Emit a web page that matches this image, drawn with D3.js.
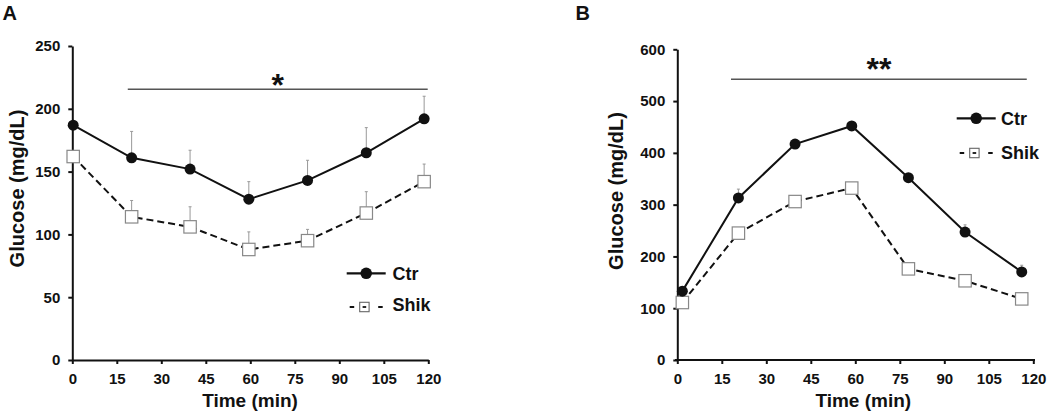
<!DOCTYPE html>
<html>
<head>
<meta charset="utf-8">
<script src="https://cdn.jsdelivr.net/npm/d3@7"></script>
<style>
  html, body { margin: 0; padding: 0; background: #fff; }
  svg { display: block; font-family: "Liberation Sans", Arial, sans-serif; }
  text { fill: #111; font-weight: bold; }
</style>
</head>
<body>
<svg id="chart" width="1050" height="418"></svg>
<script>
// ---------- DATA ----------
const xTicks = [0, 15, 30, 45, 60, 75, 90, 105, 120];

// Panel A
const timeA = [0.3, 20, 39.7, 59.5, 79.3, 99.1, 118.6];
const ctrA = [187, 161, 152, 128, 143, 165, 192];
const ctrAErr = [0, 21, 15, 14, 16, 20, 18];
const shikA = [162, 114, 106, 88, 95, 117, 142];
const shikAErr = [0, 13, 16, 14, 9, 17, 14];
const yTicksA = [0, 50, 100, 150, 200, 250];
const sigA = { from: 18.7, to: 119.8, label: "*" };

// Panel B
const timeB = [1.7, 20.6, 39.7, 58.8, 77.9, 97, 116.1];
const ctrB = [133, 313, 417, 452, 352, 247, 170];
const ctrBErr = [0, 17, 0, 0, 0, 14, 13];
const shikB = [111, 245, 306, 332, 176, 153, 118];
const shikBErr = [0, 0, 5, 5, 0, 12, 0];
const yTicksB = [0, 100, 200, 300, 400, 500, 600];
const sigB = { from: 18.1, to: 117.8, label: "**" };

const seriesNames = ["Ctr", "Shik"];
const yTitle = "Glucose (mg/dL)";
const xTitle = "Time (min)";

// ---------- DRAW ----------
const svg = d3.select("#chart");

function panel(cfg) {
  const g = svg.append("g");
  const x = d3.scaleLinear().domain([0, 120]).range(cfg.xr);
  const y = d3.scaleLinear().domain(cfg.yd).range(cfg.yr);

  // axes
  const yAxis = d3.axisLeft(y).tickValues(cfg.yTicks).tickSizeInner(4).tickSizeOuter(0).tickPadding(8);
  const xAxis = d3.axisBottom(x).tickValues(xTicks).tickSizeInner(4).tickSizeOuter(0).tickPadding(9);
  const ya = g.append("g").attr("transform", `translate(${cfg.xr[0]},0)`).call(yAxis);
  const xa = g.append("g").attr("transform", `translate(0,${cfg.yr[0]})`).call(xAxis);
  [ya, xa].forEach(a => {
    a.selectAll("path.domain").attr("stroke", "#111").attr("stroke-width", 2);
    a.selectAll(".tick line").attr("stroke", "#111").attr("stroke-width", 2);
    a.selectAll(".tick text").attr("font-size", 15).attr("font-weight", "bold")
      .attr("fill", "#111").attr("font-family", "'Liberation Sans', Arial, sans-serif");
  });
  if (cfg.xExtend) {
    xa.select("path.domain").attr("d", `M${cfg.xExtend[0]},0H${cfg.xExtend[1]}`);
  }

  // titles
  g.append("text").attr("x", cfg.xTitleX).attr("y", 407).attr("text-anchor", "middle")
    .attr("font-size", 19).text(xTitle);
  g.append("text").attr("transform", `translate(${cfg.yTitleX},${cfg.yTitleY}) rotate(-90)`)
    .attr("text-anchor", "middle").attr("font-size", 20).text(yTitle);
  g.append("text").attr("x", cfg.labelX).attr("y", 20).attr("font-size", 20).text(cfg.label);

  // significance bar
  g.append("line").attr("x1", x(cfg.sig.from)).attr("x2", x(cfg.sig.to))
    .attr("y1", cfg.sigY).attr("y2", cfg.sigY).attr("stroke", "#555").attr("stroke-width", 1.6);
  g.append("text").attr("x", x((cfg.sig.from + cfg.sig.to) / 2)).attr("y", cfg.starY)
    .attr("text-anchor", "middle").attr("font-size", 32).text(cfg.sig.label);

  const ctr = cfg.time.map((t, i) => ({ t, v: cfg.ctr[i], e: cfg.ctrErr[i] }));
  const shik = cfg.time.map((t, i) => ({ t, v: cfg.shik[i], e: cfg.shikErr[i] }));

  // error bars (upper only)
  [ctr, shik].forEach(s => {
    const eb = g.append("g").attr("stroke", "#999").attr("stroke-width", 1);
    s.filter(d => d.e > 0).forEach(d => {
      eb.append("line").attr("x1", x(d.t)).attr("x2", x(d.t)).attr("y1", y(d.v)).attr("y2", y(d.v + d.e));
      eb.append("line").attr("x1", x(d.t) - 1.5).attr("x2", x(d.t) + 1.5).attr("y1", y(d.v + d.e)).attr("y2", y(d.v + d.e));
    });
  });

  const line = d3.line().x(d => x(d.t)).y(d => y(d.v));
  g.append("path").datum(shik).attr("d", line).attr("fill", "none").attr("stroke", "#111")
    .attr("stroke-width", 2).attr("stroke-dasharray", "7,4");
  g.append("path").datum(ctr).attr("d", line).attr("fill", "none").attr("stroke", "#111")
    .attr("stroke-width", 2);

  g.selectAll("rect.shik").data(shik).join("rect").attr("class", "shik")
    .attr("x", d => x(d.t) - 6.2).attr("y", d => y(d.v) - 6.2).attr("width", 12.4).attr("height", 12.4)
    .attr("fill", "#fff").attr("stroke", "#888").attr("stroke-width", 1.2);
  g.selectAll("circle.ctr").data(ctr).join("circle").attr("class", "ctr")
    .attr("cx", d => x(d.t)).attr("cy", d => y(d.v)).attr("r", 5.5).attr("fill", "#111");

  // legend
  const L = cfg.legend;
  const lg = g.append("g");
  lg.append("line").attr("x1", L.x).attr("x2", L.x + 39).attr("y1", L.y1).attr("y2", L.y1)
    .attr("stroke", "#111").attr("stroke-width", 2.2);
  lg.append("circle").attr("cx", L.x + 19.5).attr("cy", L.y1).attr("r", 5.8).attr("fill", "#111");
  lg.append("text").attr("x", L.tx).attr("y", L.ty1).attr("font-size", 18).text(seriesNames[0]);
  const sy = L.y2;
  lg.append("line").attr("x1", L.x + 3).attr("x2", L.x + 7.5).attr("y1", sy).attr("y2", sy)
    .attr("stroke", "#111").attr("stroke-width", 2);
  lg.append("line").attr("x1", L.x + 31.5).attr("x2", L.x + 36).attr("y1", sy).attr("y2", sy)
    .attr("stroke", "#111").attr("stroke-width", 2);
  lg.append("rect").attr("x", L.x + 13).attr("y", sy - 4.7).attr("width", 9.4).attr("height", 9.4)
    .attr("fill", "#fff").attr("stroke", "#666").attr("stroke-width", 1.1);
  lg.append("line").attr("x1", L.x + 15.9).attr("x2", L.x + 19.5).attr("y1", sy).attr("y2", sy)
    .attr("stroke", "#111").attr("stroke-width", 1.8);
  lg.append("text").attr("x", L.tx).attr("y", L.ty2).attr("font-size", 18).text(seriesNames[1]);
}

panel({
  label: "A", labelX: 2.5,
  xr: [72.3, 428.3], yd: [0, 250], yr: [360, 46], yTicks: yTicksA,
  time: timeA, ctr: ctrA, ctrErr: ctrAErr, shik: shikA, shikErr: shikAErr,
  sig: sigA, sigY: 89.3, starY: 96,
  xTitleX: 250, yTitleX: 23.5, yTitleY: 188.5,
  legend: { x: 346.7, y1: 273.3, ty1: 279.5, y2: 307, ty2: 310.7, tx: 392.5 }
});

panel({
  label: "B", labelX: 575.5,
  xr: [677.3, 1033.3], yd: [0, 600], yr: [360, 49.3], yTicks: yTicksB,
  time: timeB, ctr: ctrB, ctrErr: ctrBErr, shik: shikB, shikErr: shikBErr,
  sig: sigB, sigY: 79.3, starY: 80, xExtend: [675, 1035],
  xTitleX: 863.3, yTitleX: 623, yTitleY: 191,
  legend: { x: 956.7, y1: 118.3, ty1: 125, y2: 153, ty2: 159, tx: 1001 }
});
</script>
</body>
</html>
